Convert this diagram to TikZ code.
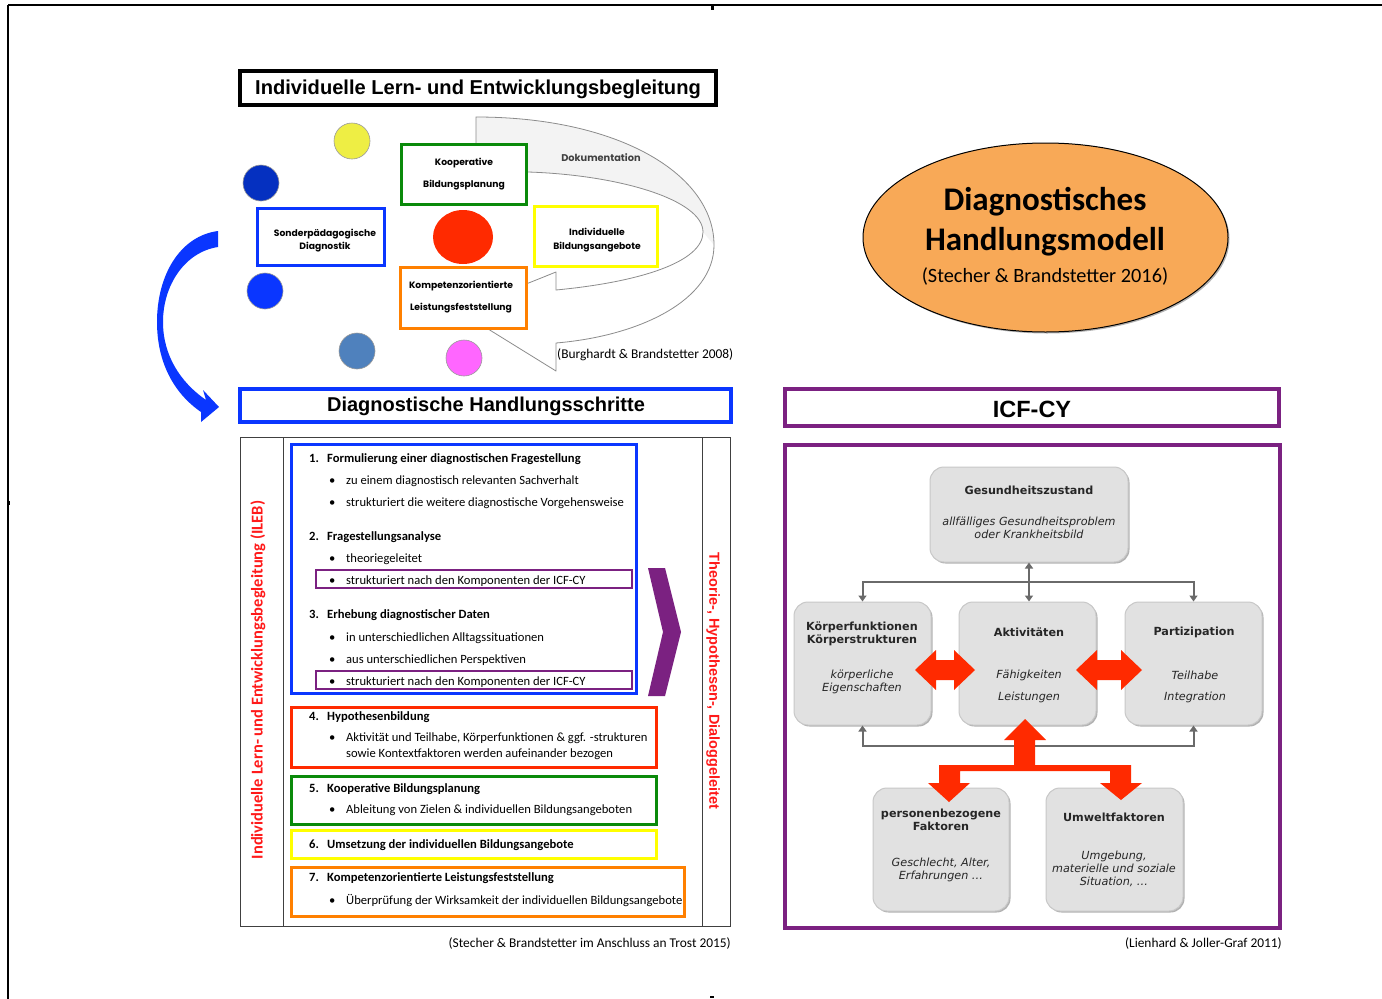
\documentclass[tikz,border=0pt]{standalone}
\usepackage{fontspec}
\setmainfont{Carlito}
\newfontfamily\arialf{Liberation Sans}
\newfontfamily\verdf{DejaVu Sans}
\newfontfamily\futf{Poppins}
\usetikzlibrary{shadows,shapes.geometric,arrows.meta}
\definecolor{cblue}{HTML}{0A36FF}
\definecolor{cdblue}{HTML}{0530C0}
\definecolor{cgreen}{HTML}{0A8A0A}
\definecolor{cyellow}{HTML}{FFFF00}
\definecolor{corange}{HTML}{FF8000}
\definecolor{cred}{HTML}{FF2A00}
\definecolor{cpurple}{HTML}{7B2181}
\definecolor{ctxtred}{HTML}{FF1A1A}
\definecolor{cell}{HTML}{F8A957}
\definecolor{cicf}{HTML}{E1E1E1}
\definecolor{cicfb}{HTML}{C8C8C8}
\definecolor{cgrayl}{HTML}{6A6A6A}
\definecolor{cband}{HTML}{F3F3F3}
\definecolor{cbandl}{HTML}{8C8C8C}
\definecolor{csteel}{HTML}{4F81BD}
\definecolor{cmag}{HTML}{FF66FF}
\definecolor{cyel2}{HTML}{EEEE44}
\newcommand\fsz[2]{\fontsize{#1}{#2}\selectfont}
\tikzset{
  shd/.style={drop shadow={shadow xshift=1.5pt,shadow yshift=-1.5pt,opacity=0.3,fill=black}},
  tlbox/.style={draw=#1, line width=3pt, fill=white, inner sep=0, shd},
  tlt/.style={font=\futf\bfseries\fsz{9.2}{#1}, align=center, inner sep=0},
  stepbox/.style={draw=#1, line width=3pt, inner sep=0},
  pbox/.style={draw=cpurple, line width=2pt, inner sep=0},
  lt/.style={font=\fsz{12.6}{14}, anchor=base west, inner sep=0},
  ltb/.style={font=\bfseries\fsz{12.6}{14}, anchor=base west, inner sep=0},
  dotc/.style={circle, draw=gray!80, line width=0.6pt, fill=#1, minimum size=36, inner sep=0},
  icfbox/.style={draw=cicfb, line width=1pt, fill=cicf, rounded corners=14, inner sep=0, shd},
  icft/.style={font=\verdf\bfseries\fsz{11.2}{13}, align=center, inner sep=0, text=black!85},
  icfi/.style={font=\verdf\itshape\fsz{11.2}{13}, align=center, inner sep=0, text=black!85},
  gc/.style={draw=cgrayl, line width=2pt},
  src/.style={font=\fsz{13.4}{15}, inner sep=0},
  redarr/.style={fill=cred, draw=none},
}
\begin{document}
\begin{tikzpicture}[x=1pt,y=-1pt]
\useasboundingbox (0,0) rectangle (1382,999);
\fill[white] (0,0) rectangle (1382,999);
% page frame marks
\draw[line width=1.5pt] (8,5) -- (1382,5);
\draw[line width=1.2pt] (8,5) -- (8,999);
\fill (710.5,5) rectangle (713.5,10);
\fill (7,501) rectangle (10,505);
\fill (710,996) rectangle (714,998);

% ===== top-left: ILEB =====
\node[draw=black, line width=4pt, minimum width=476, minimum height=34, inner sep=0] (t1) at (478,88) {};
\node[font=\arialf\bfseries\fsz{20.1}{22}, inner sep=0] (t1t) at (478,89) {Individuelle Lern- und Entwicklungsbegleitung};

% Dokumentation band
\fill[cband] (476,117) .. controls (620,117) and (714,175) .. (714,245) -- (703,232)
   .. controls (703,200) and (620,175) .. (528,172) -- (476,172) -- cycle;
\draw[cbandl, line width=0.8pt, line join=round] (476,117) .. controls (620,117) and (714,175) .. (714,245)
   .. controls (714,300) and (640,336) .. (556,343) -- (556,371) -- (459,311) -- (556,272) -- (556,290)
   .. controls (640,282) and (703,262) .. (703,232)
   .. controls (703,200) and (620,175) .. (528,172) -- (476,172) -- cycle;
\node[font=\futf\bfseries\fsz{9.8}{11}, text=black!75, inner sep=0] (doku) at (601,158) {Dokumentation};

% circles
\node[dotc=cyel2] (c1) at (352,141) {};
\node[dotc=cdblue] (c2) at (261,183) {};
\node[dotc=cblue] (c3) at (265,291) {};
\node[dotc=csteel] (c4) at (357,351) {};
\node[dotc=cmag] (c5) at (464,358) {};
\node[ellipse, fill=cred, minimum width=60, minimum height=54, inner sep=0] (c6) at (463,237) {};

% small boxes
\node[tlbox=cblue, minimum width=127, minimum height=57] (b1) at (321,237) {};
\node[tlbox=cgreen, minimum width=125, minimum height=60] (b2) at (464,174.5) {};
\node[tlbox=cyellow, minimum width=123, minimum height=60] (b3) at (596,236.5) {};
\node[tlbox=corange, minimum width=126, minimum height=61] (b4) at (463.5,298) {};
\node[tlt=13] at (325,240.5) {Sonderpädagogische\\Diagnostik};
\node[tlt=22] at (464,174) {Kooperative\\Bildungsplanung};
\node[tlt=14] at (597,240) {Individuelle\\Bildungsangebote};
\node[tlt=22] at (461,297) {Kompetenzorientierte\\Leistungsfeststellung};

\node[src, anchor=west] (src1) at (557,355) {(Burghardt \& Brandstetter 2008)};

% blue curved arrow
\fill[cblue] (218,231) .. controls (180,236) and (157,275) .. (157,322)
   .. controls (157,360) and (172,392) .. (201,412) -- (201,422) -- (219,407) -- (203,390) -- (206,400)
   .. controls (180,382) and (163,355) .. (163,322)
   .. controls (163,285) and (185,252) .. (218,247) -- cycle;

% ===== Diagnostische Handlungsschritte =====
\node[draw=cblue, line width=3.5pt, minimum width=491, minimum height=33, inner sep=0] (dh) at (485.5,405.5) {};
\node[font=\arialf\bfseries\fsz{20}{22}, inner sep=0] at (486,406.5) {Diagnostische Handlungsschritte};

\draw[black!75, line width=1pt] (240,437) rectangle (730,926);
\draw[black!75, line width=1pt] (283,437) -- (283,926);
\draw[black!75, line width=1pt] (702,437) -- (702,926);
\node[rotate=90, text=ctxtred, font=\bfseries\fsz{16.5}{18}, inner sep=0] (ileb) at (258,680) {Individuelle Lern- und Entwicklungsbegleitung (ILEB)};
\node[rotate=-90, text=ctxtred, font=\arialf\bfseries\fsz{14.5}{16}, inner sep=0] (thd) at (713,681) {Theorie-, Hypothesen-, Dialoggeleitet};

\node[stepbox=cblue, minimum width=345, minimum height=249] (s1) at (464,569) {};
\node[pbox, minimum width=316, minimum height=18] (p1) at (474,579) {};
\node[pbox, minimum width=316, minimum height=18] (p2) at (474,680) {};
\node[stepbox=cred, minimum width=365, minimum height=60] (s4) at (474,737.5) {};
\node[stepbox=cgreen, minimum width=365, minimum height=48] (s5) at (474,800.5) {};
\node[stepbox=cyellow, minimum width=365, minimum height=28] (s6) at (474,844.5) {};
\node[stepbox=corange, minimum width=393, minimum height=49] (s7) at (488,892) {};

\fill[cpurple] (648,568) -- (665,568) -- (681,632) -- (665,696) -- (648,696) -- (663,632) -- cycle;

% list text
\node[ltb] at (309,462) {1.}; \node[ltb] at (327,462) {Formulierung einer diagnostischen Fragestellung};
\node[lt] at (329,484) {•}; \node[lt] at (346,484) {zu einem diagnostisch relevanten Sachverhalt};
\node[lt] at (329,506) {•}; \node[lt] at (346,506) {strukturiert die weitere diagnostische Vorgehensweise};
\node[ltb] at (309,540) {2.}; \node[ltb] at (327,540) {Fragestellungsanalyse};
\node[lt] at (329,562) {•}; \node[lt] at (346,562) {theoriegeleitet};
\node[lt] at (329,584) {•}; \node[lt] at (346,584) {strukturiert nach den Komponenten der ICF-CY};
\node[ltb] at (309,618) {3.}; \node[ltb] at (327,618) {Erhebung diagnostischer Daten};
\node[lt] at (329,641) {•}; \node[lt] at (346,641) {in unterschiedlichen Alltagssituationen};
\node[lt] at (329,663) {•}; \node[lt] at (346,663) {aus unterschiedlichen Perspektiven};
\node[lt] at (329,685) {•}; \node[lt] at (346,685) {strukturiert nach den Komponenten der ICF-CY};
\node[ltb] at (309,720) {4.}; \node[ltb] at (327,720) {Hypothesenbildung};
\node[lt] at (329,741) {•}; \node[lt] at (346,741) {Aktivität und Teilhabe, Körperfunktionen \& ggf. -strukturen};
\node[lt] at (346,757) {sowie Kontextfaktoren werden aufeinander bezogen};
\node[ltb] at (309,792) {5.}; \node[ltb] at (327,792) {Kooperative Bildungsplanung};
\node[lt] at (329,813) {•}; \node[lt] at (346,813) {Ableitung von Zielen \& individuellen Bildungsangeboten};
\node[ltb] at (309,848) {6.}; \node[ltb] at (327,848) {Umsetzung der individuellen Bildungsangebote};
\node[ltb] at (309,881) {7.}; \node[ltb] at (327,881) {Kompetenzorientierte Leistungsfeststellung};
\node[lt] at (329,904) {•}; \node[lt] at (346,904) {Überprüfung der Wirksamkeit der individuellen Bildungsangebote};

\node[src, anchor=east] (src2) at (731,944) {(Stecher \& Brandstetter im Anschluss an Trost 2015)};

% ===== right side =====
\node[ellipse, draw=black, line width=1pt, fill=cell, minimum width=365, minimum height=189, inner sep=0, shd] (ell) at (1045.5,237.5) {};
\node[font=\bfseries\fsz{33}{38}, inner sep=0] at (1045,202) {Diagnostisches};
\node[font=\bfseries\fsz{33}{38}, inner sep=0] at (1045,242) {Handlungsmodell};
\node[font=\fsz{20.3}{23}, inner sep=0] at (1045,276) {(Stecher \& Brandstetter 2016)};

\node[draw=cpurple, line width=3.5pt, minimum width=494, minimum height=37, inner sep=0] (icf) at (1032,407.5) {};
\node[font=\arialf\bfseries\fsz{23.5}{26}, inner sep=0] at (1032,409) {ICF-CY};

\node[draw=cpurple, line width=4pt, minimum width=495, minimum height=483, inner sep=0] (fr) at (1032.5,686.5) {};

\node[icfbox, minimum width=198, minimum height=95] (gz) at (1029,514.5) {};
\node[icfbox, minimum width=137, minimum height=123] (kf) at (862.5,663.5) {};
\node[icfbox, minimum width=137, minimum height=123] (akt) at (1027.5,663.5) {};
\node[icfbox, minimum width=137, minimum height=123] (part) at (1193.5,663.5) {};
\node[icfbox, minimum width=136, minimum height=123] (pf) at (941,849.5) {};
\node[icfbox, minimum width=137, minimum height=123] (uf) at (1114.5,849.5) {};

\node[icft] at (1029,490) {Gesundheitszustand};
\node[icfi, font=\verdf\itshape\fsz{11.2}{13.5}] at (1029,528) {allfälliges Gesundheitsproblem\\oder Krankheitsbild};
\node[icft, font=\verdf\bfseries\fsz{11.2}{13.5}] at (862,634) {Körperfunktionen\\Körperstrukturen};
\node[icfi, font=\verdf\itshape\fsz{11.2}{13.5}] at (862,682) {körperliche\\Eigenschaften};
\node[icft] at (1029,632) {Aktivitäten};
\node[icfi] at (1029,675) {Fähigkeiten};
\node[icfi] at (1029,697) {Leistungen};
\node[icft] at (1194,632) {Partizipation};
\node[icfi] at (1195,675) {Teilhabe};
\node[icfi] at (1195,697) {Integration};
\node[icft, font=\verdf\bfseries\fsz{11.2}{12.5}] at (941,820) {personenbezogene\\Faktoren};
\node[icfi, font=\verdf\itshape\fsz{11.2}{12.5}] at (941,870) {Geschlecht, Alter,\\Erfahrungen …};
\node[icft] at (1114,817) {Umweltfaktoren};
\node[icfi] at (1114,869) {Umgebung,\\materielle und soziale\\Situation, …};

% gray connectors
\draw[gc, {Triangle[length=6pt,width=8pt]}-{Triangle[length=6pt,width=8pt]}] (gz.south) -- (gz.south |- akt.north);
\draw[gc, -{Triangle[length=6pt,width=8pt]}] (gz.south |- 0,582) -| (kf.north);
\draw[gc, -{Triangle[length=6pt,width=8pt]}] (gz.south |- 0,582) -| (part.north);
\draw[gc, -{Triangle[length=6pt,width=8pt]}] (akt.south |- 0,746) -| (kf.south);
\draw[gc, -{Triangle[length=6pt,width=8pt]}] (akt.south |- 0,746) -| (part.south);

% red arrows
\fill[redarr] (915,670) -- (936,650) -- (936,660) -- (954,660) -- (954,650) -- (975,670) -- (954,690) -- (954,680) -- (936,680) -- (936,690) -- cycle;
\fill[redarr] (1076,670) -- (1097,650) -- (1097,660) -- (1121,660) -- (1121,650) -- (1142,670) -- (1121,690) -- (1121,680) -- (1097,680) -- (1097,690) -- cycle;
\fill[redarr] (1025,719) -- (1046,740) -- (1035,740) -- (1035,765) -- (1131,765) -- (1131,783) -- (1142,783)
  -- (1121,800) -- (1100,783) -- (1110,783) -- (1110,771) -- (960,771) -- (960,783) -- (970,783)
  -- (949,802) -- (928,783) -- (939,783) -- (939,765) -- (1014,765) -- (1014,740) -- (1004,740) -- cycle;

\node[src, anchor=east] (src3) at (1282,944) {(Lienhard \& Joller-Graf 2011)};
\end{tikzpicture}
\end{document}
